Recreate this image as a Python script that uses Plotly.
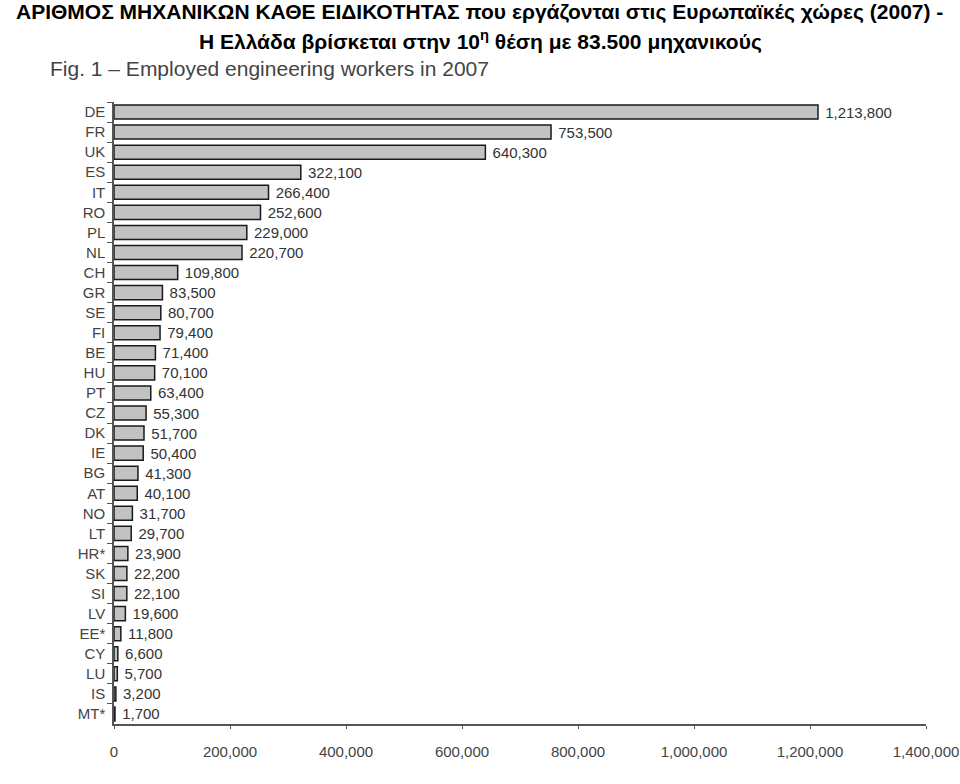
import plotly.graph_objects as go

countries = ["DE", "FR", "UK", "ES", "IT", "RO", "PL", "NL", "CH", "GR", "SE", "FI", "BE", "HU", "PT",
             "CZ", "DK", "IE", "BG", "AT", "NO", "LT", "HR*", "SK", "SI", "LV", "EE*", "CY", "LU", "IS", "MT*"]
workers = [1213800, 753500, 640300, 322100, 266400, 252600, 229000, 220700, 109800, 83500, 80700, 79400,
           71400, 70100, 63400, 55300, 51700, 50400, 41300, 40100, 31700, 29700, 23900, 22200, 22100,
           19600, 11800, 6600, 5700, 3200, 1700]
x_ticks = [0, 200000, 400000, 600000, 800000, 1000000, 1200000, 1400000]

title_line1 = "ΑΡΙΘΜΟΣ ΜΗΧΑΝΙΚΩΝ ΚΑΘΕ ΕΙΔΙΚΟΤΗΤΑΣ που εργάζονται στις Ευρωπαϊκές χώρες (2007) -"
title_line2 = "Η Ελλάδα βρίσκεται στην 10<sup>η</sup> θέση με 83.500 μηχανικούς"
fig_title = "Fig. 1 – Employed engineering workers in 2007"

ML, MR, MT, MB = 114, 34, 102, 60
W, H = 960, 784
plot_w = W - ML - MR
plot_h = H - MT - MB


def px_x(x):
    return (x - ML) / plot_w


def px_y(y):
    return (H - MB - y) / plot_h


FONT = "Liberation Sans, Arial, sans-serif"

fig = go.Figure()
fig.add_trace(go.Bar(
    x=workers, y=countries, orientation="h",
    marker=dict(color="#c2c2c2", line=dict(color="#1a1a1a", width=1.5)),
    width=0.7,
    text=[" " + f"{v:,}" for v in workers], textposition="outside",
    textfont=dict(family=FONT, size=15, color="#333"),
    constraintext="none",
    cliponaxis=False,
))

fig.update_layout(
    width=W, height=H,
    margin=dict(l=ML, r=MR, t=MT, b=MB, autoexpand=False),
    paper_bgcolor="white", plot_bgcolor="white",
    showlegend=False,
    font=dict(family=FONT, color="#444"),
    xaxis=dict(range=[0, 1400000], tickvals=x_ticks, tickformat=",d", automargin=False,
               showgrid=False, zeroline=False, showline=True, linecolor="#555", linewidth=1.5,
               ticks="outside", ticklen=3, tickcolor="#555",
               tickfont=dict(size=15, color="#444"), ticklabelstandoff=10),
    yaxis=dict(autorange="reversed", showgrid=False, zeroline=False, showline=True, automargin=False,
               linecolor="#555", linewidth=1.5, ticks="outside", ticklen=5, tickcolor="#555",
               tickson="boundaries", tickfont=dict(size=15, color="#444"), ticklabelstandoff=4,
               categoryorder="array", categoryarray=countries),
    annotations=[
        dict(text="<b>" + title_line1 + "</b>", x=px_x(479), y=px_y(12), xref="paper", yref="paper",
             showarrow=False, font=dict(family=FONT, size=21, color="black"),
             xanchor="center", yanchor="middle"),
        dict(text="<b>" + title_line2 + "</b>", x=px_x(480), y=px_y(40), xref="paper", yref="paper",
             showarrow=False, font=dict(family=FONT, size=21, color="black"),
             xanchor="center", yanchor="middle"),
        dict(text=fig_title, x=px_x(48), y=px_y(68), xref="paper", yref="paper", showarrow=False,
             font=dict(family=FONT, size=21, color="#444"),
             xanchor="left", yanchor="middle"),
    ],
)

fig.write_html("out.html")
